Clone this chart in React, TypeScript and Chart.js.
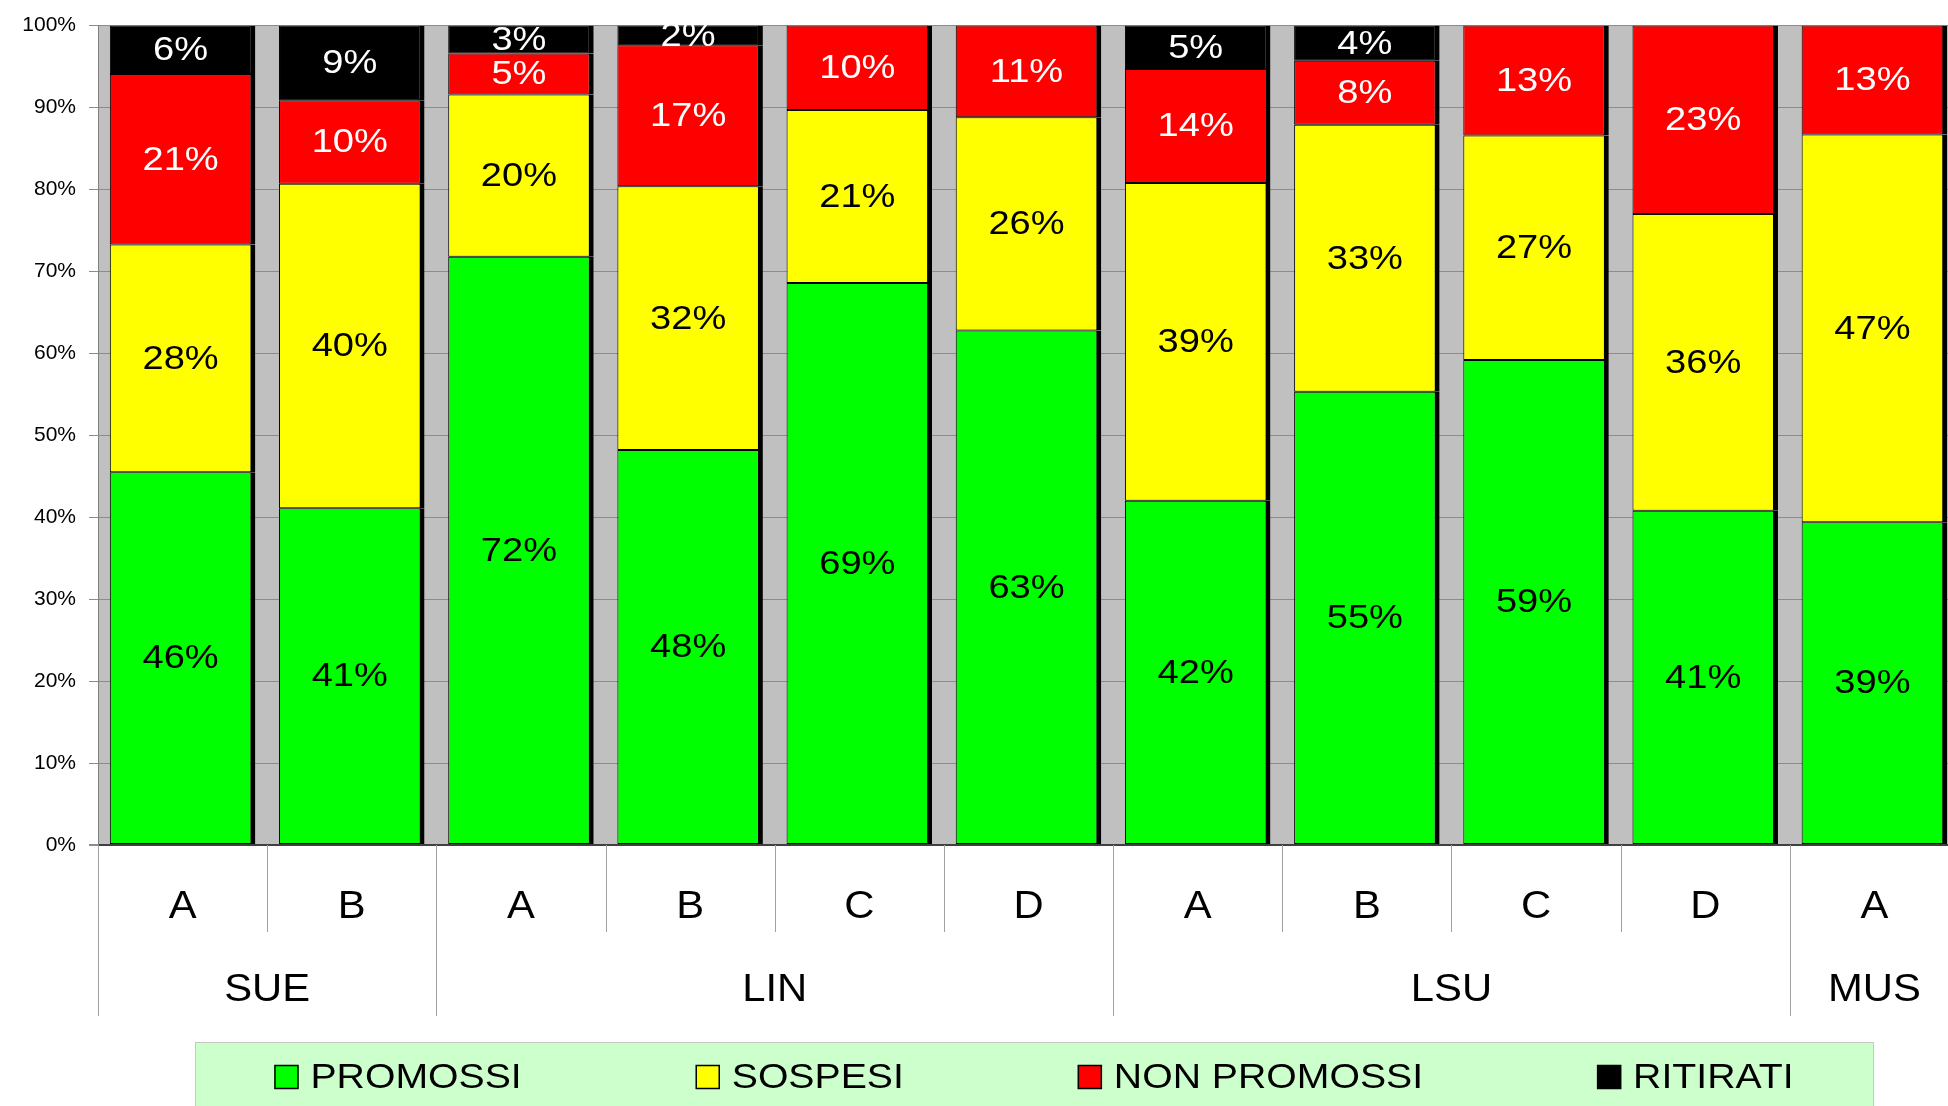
import React, { useEffect, useRef } from "react";
import { Chart, registerables } from "chart.js";

Chart.register(...registerables);

const categories = ["A", "B", "A", "B", "C", "D", "A", "B", "C", "D", "A"];
const groupLabels = ["SUE", "LIN", "LSU", "MUS"];
const groupSizes = [2, 4, 4, 1];
const seriesNames = ["PROMOSSI", "SOSPESI", "NON PROMOSSI", "RITIRATI"];
const promossi = [45.5, 41.1, 71.8, 48.2, 68.6, 62.8, 42.0, 55.3, 59.2, 40.8, 39.4];
const sospesi = [27.8, 39.6, 19.8, 32.2, 21.1, 26.0, 38.8, 32.6, 27.4, 36.2, 47.3];
const nonPromossi = [20.8, 10.2, 5.0, 17.2, 10.3, 11.2, 13.9, 7.8, 13.4, 23.0, 13.3];
const ritirati = [5.9, 9.1, 3.4, 2.4, 0, 0, 5.3, 4.3, 0, 0, 0];
const yMin = 0;
const yMax = 100;
const yStep = 10;

const seriesColors = ["#00FF00", "#FFFF00", "#FF0000", "#000000"];
const labelColors = ["#000000", "#000000", "#FFFFFF", "#FFFFFF"];
const FONT = "'Liberation Sans', Arial, Helvetica, sans-serif";

const W = 1960;
const H = 1106;

function stretchText(ctx: any, text: string, x: number, y: number, sx: number) {
  ctx.save();
  ctx.translate(x, y);
  ctx.scale(sx, 1);
  ctx.fillText(text, 0, 0);
  ctx.restore();
}

export default function App() {
  const ref = useRef<HTMLCanvasElement | null>(null);

  useEffect(() => {
    if (!ref.current) return;
    const seriesData = [promossi, sospesi, nonPromossi, ritirati];

    const bgPlugin = {
      id: "plotBg",
      beforeDraw(chart: any) {
        const { ctx, chartArea } = chart;
        ctx.save();
        ctx.fillStyle = "#FFFFFF";
        ctx.fillRect(0, 0, chart.width, chart.height);
        ctx.fillStyle = "#C0C0C0";
        ctx.fillRect(chartArea.left, chartArea.top, chartArea.right - chartArea.left, chartArea.bottom - chartArea.top);
        ctx.restore();
      },
    };

    const labelPlugin = {
      id: "segLabels",
      afterDatasetsDraw(chart: any) {
        const { ctx } = chart;
        ctx.save();
        ctx.font = `34px ${FONT}`;
        ctx.textAlign = "center";
        ctx.textBaseline = "middle";
        chart.data.datasets.forEach((ds: any, di: number) => {
          const meta = chart.getDatasetMeta(di);
          meta.data.forEach((el: any, i: number) => {
            const v = ds.data[i];
            if (!v || v <= 0) return;
            ctx.fillStyle = labelColors[di];
            stretchText(ctx, Math.round(v) + "%", el.x - 2, (el.y + el.base) / 2 + 1, 1.12);
          });
        });
        ctx.restore();
      },
    };

    const axisPlugin = {
      id: "groupAxis",
      afterDraw(chart: any) {
        const { ctx, chartArea } = chart;
        const xs = chart.scales.x;
        const bottom = chartArea.bottom;
        const n = categories.length;
        const half = (xs.getPixelForValue(1) - xs.getPixelForValue(0)) / 2;
        ctx.save();
        ctx.strokeStyle = "#A0A0A0";
        ctx.lineWidth = 1;
        const groupEnds: number[] = [];
        let acc = 0;
        groupSizes.forEach((s) => {
          acc += s;
          groupEnds.push(acc);
        });
        for (let i = 0; i <= n; i++) {
          const x = Math.round(i < n ? xs.getPixelForValue(i) - half : xs.getPixelForValue(n - 1) + half) + 0.5;
          const isGroup = i === 0 || groupEnds.includes(i);
          const len = isGroup ? 171 : 87;
          ctx.beginPath();
          ctx.moveTo(x, bottom);
          ctx.lineTo(x, bottom + len);
          ctx.stroke();
        }
        ctx.fillStyle = "#000000";
        ctx.textAlign = "center";
        ctx.textBaseline = "middle";
        ctx.font = `38px ${FONT}`;
        categories.forEach((c, i) => {
          stretchText(ctx, c, xs.getPixelForValue(i), bottom + 63, 1.1);
        });
        let start = 0;
        groupLabels.forEach((g, gi) => {
          const end = start + groupSizes[gi] - 1;
          const cx = (xs.getPixelForValue(start) + xs.getPixelForValue(end)) / 2;
          stretchText(ctx, g, cx, bottom + 146, 1.1);
          start = end + 1;
        });

        // legend
        const lx0 = 195;
        const lx1 = 1873;
        const ly0 = 1042;
        ctx.fillStyle = "#CCFFCC";
        ctx.fillRect(lx0, ly0, lx1 - lx0, chart.height - ly0 + 2);
        ctx.strokeStyle = "#C8C8C8";
        ctx.lineWidth = 1;
        ctx.strokeRect(lx0 + 0.5, ly0 + 0.5, lx1 - lx0, chart.height - ly0 + 5);
        ctx.font = `35px ${FONT}`;
        ctx.textAlign = "left";
        const sx = 1.12;
        const box = 24;
        const gapText = 12;
        const gapItem = 174;
        const names = chart.data.datasets.map((d: any) => d.label);
        const widths = names.map((t: string) => box + gapText + ctx.measureText(t).width * sx);
        const total = widths.reduce((a: number, b: number) => a + b, 0) + gapItem * (names.length - 1);
        let x = (lx0 + lx1) / 2 - total / 2;
        const cy = 1077;
        names.forEach((t: string, i: number) => {
          ctx.fillStyle = chart.data.datasets[i].backgroundColor;
          ctx.fillRect(x, cy - box / 2, box, box);
          ctx.strokeStyle = "#000000";
          ctx.lineWidth = 1.5;
          ctx.strokeRect(x + 0.5, cy - box / 2 + 0.5, box - 1, box - 1);
          ctx.fillStyle = "#000000";
          stretchText(ctx, t, x + box + gapText, cy + 1, sx);
          x += widths[i] + gapItem;
        });
        ctx.restore();
      },
    };

    const chart = new Chart(ref.current, {
      type: "bar",
      data: {
        labels: categories,
        datasets: seriesNames.map((name, i) => ({
          label: name,
          data: seriesData[i],
          backgroundColor: seriesColors[i],
          borderColor: "#000000",
          borderWidth: { top: 1, bottom: 1, left: 1, right: 5 },
          borderSkipped: false,
          barPercentage: 0.86,
          categoryPercentage: 1,
        })),
      },
      options: {
        responsive: false,
        animation: false,
        devicePixelRatio: 1,
        layout: { padding: { left: 0, top: 22, right: 1, bottom: 261 } },
        plugins: {
          legend: { display: false },
          tooltip: { enabled: false },
          title: { display: false },
        },
        scales: {
          x: {
            stacked: true,
            display: false,
          },
          y: {
            stacked: true,
            min: yMin,
            max: yMax,
            afterFit(scale: any) {
              scale.width = 98;
            },
            ticks: {
              stepSize: yStep,
              padding: 13,
              color: "#000000",
              font: { family: FONT, size: 21 },
              callback: (v: any) => v + "%",
            },
            grid: {
              color: (c: any) => (c.tick && c.tick.value === 0 ? "#404040" : "#8C8C8C"),
              lineWidth: (c: any) => (c.tick && c.tick.value === 0 ? 2 : 1),
              tickLength: 9,
              tickColor: "#8C8C8C",
            },
            border: { color: "#808080", width: 1 },
          },
        },
      },
      plugins: [bgPlugin, labelPlugin, axisPlugin],
    });
    return () => chart.destroy();
  }, []);

  return (
    <div style={{ position: "fixed", left: 0, top: 0, width: 1948, height: 1106, overflow: "hidden", background: "#fff" }}>
      <canvas ref={ref} width={W} height={H} style={{ display: "block", width: W, height: H }} />
    </div>
  );
}
